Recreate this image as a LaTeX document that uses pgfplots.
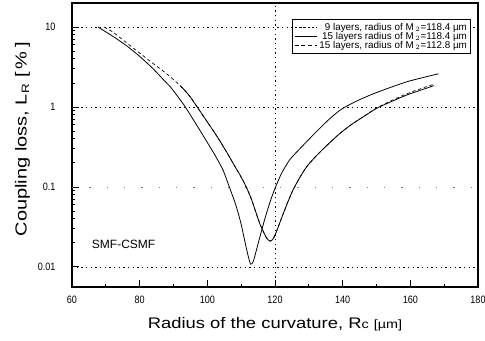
\documentclass[border=0pt]{standalone}
\usepackage{pgfplots}
\pgfplotsset{compat=1.18}
\usetikzlibrary{calc}
\usepackage{fontspec}
\setmainfont{Liberation Sans}
\begin{document}
\begin{tikzpicture}
\begin{semilogyaxis}[
  scale only axis, width=304.5pt, height=213pt,
  xmin=60, xmax=180, ymin=0.0056, ymax=20,
  xtick={60,80,100,120,140,160,180}, minor x tick num=1,
  xticklabels={60,80,100,120,140,160,180},
  ytick={0.01,0.1,1,10}, yticklabels={0.01,0.1,1,10},
  tick align=inside, xtick pos=left, ytick pos=left,
  major tick length=5pt, minor tick length=2.5pt,
  axis line style={line width=1pt},
  every tick/.style={black, line width=0.6pt},
  ticklabel style={font=\fontsize{8}{9}\selectfont, xscale=0.85},
  xticklabel style={yshift=-3pt},
  yticklabel style={xshift=-11pt},
  xlabel={Radius of the curvature, R{\small c} {\small [µm]}},
  ylabel={Coupling loss, L\textsubscript{R} [\,\%\,]},
  every axis x label/.style={at={(axis description cs:0.5,0)}, anchor=north, yshift=-19pt,
     font=\fontsize{11.5}{13}\selectfont, xscale=1.2},
  every axis y label/.style={at={(axis description cs:0,0.52)}, anchor=south, xshift=-28pt,
     rotate=90, xscale=1.25, font=\fontsize{12}{13}\selectfont},
  legend style={at={(0.983,0.944)}, anchor=north east, font=\fontsize{7.4}{8}\selectfont,
    cells={anchor=east}, draw=black, line width=0.8pt, inner sep=1.5pt, row sep=-2.5pt,
    nodes={inner sep=1.2pt}},
  legend cell align=right,
]
\coordinate (SW) at (rel axis cs:0,0);
\coordinate (NE) at (rel axis cs:1,1);
\draw[dash pattern=on 1pt off 2.5pt, line width=0.5pt] (axis cs:60,10) -- (axis cs:180,10);
\draw[dash pattern=on 1pt off 2.5pt, line width=0.5pt] (axis cs:60,1) -- (axis cs:180,1);
\draw[dash pattern=on 1pt off 2.5pt, line width=0.5pt] (axis cs:60,0.01) -- (axis cs:180,0.01);
\draw[dash pattern=on 1pt off 12pt, line width=0.5pt, gray] (axis cs:60,0.1) -- (axis cs:180,0.1);
\draw[dash pattern=on 1pt off 2.5pt, line width=0.5pt] (axis cs:120,0.0056) -- (axis cs:120,20);

\addlegendimage{black, line width=0.5pt, dash pattern=on 2pt off 1.2pt}
\addlegendentry{9 layers, radius of M\,$_2$=118.4 µm}
\addlegendimage{black, line width=0.5pt}
\addlegendentry{15 layers radius of M\,$_2$=118.4 µm}
\addlegendimage{black, line width=0.5pt, dash pattern=on 3pt off 2pt}
\addlegendentry{15 layers, radius of M\,$_2$=112.8 µm}

% 15 layers, M2 = 112.8 um
\addplot[black, line width=0.6pt, smooth, tension=0.4, forget plot] coordinates {
(67.7,10)(72,7.7)(76,5.9)(80,4.3)(84,3.0)(87,2.2)(89,1.8)(91,1.4)(93.5,1.0)
(97,0.58)(100,0.36)(102.5,0.24)(104.7,0.16)(106.5,0.1)(108.5,0.058)(110,0.034)
(111.3,0.019)(112.2,0.013)(112.8,0.0108)(113.5,0.0115)(114.3,0.015)(115.2,0.021)
(116.1,0.029)(117,0.04)(118,0.055)(119,0.074)(120,0.096)(122,0.15)(124.4,0.22)
(127,0.29)(129.4,0.37)(132,0.48)(135.8,0.69)(139.5,0.93)(144,1.18)(149,1.46)
(154,1.75)(159,2.07)(164,2.35)(168.3,2.6)};

% 15 layers, M2 = 118.4 um
\addplot[black, line width=0.6pt, smooth, tension=0.4, forget plot] coordinates {
(92,1.85)(94,1.5)(95.5,1.24)(97,1.0)(100,0.65)(103,0.42)(106,0.26)(108,0.185)
(109.7,0.14)(111.5,0.1)(113.1,0.069)(114.5,0.046)(115.6,0.034)(116.5,0.028)
(117.5,0.023)(118.5,0.021)(119.3,0.022)(120,0.025)(121,0.032)(122.5,0.047)
(124,0.068)(125.4,0.093)(127.5,0.135)(129.4,0.18)(132,0.24)(135.3,0.33)
(139,0.46)(142.5,0.6)(146,0.75)(150,0.96)(154,1.15)(158.9,1.41)(163,1.62)(167,1.85)};

% 9 layers, M2 = 118.4 um
\addplot[black, line width=0.5pt, dash pattern=on 2.5pt off 2pt, smooth, tension=0.4, forget plot] coordinates {
(69.5,10)(72,8.7)(74.7,7.1)(79,5.1)(83.6,3.6)(88,2.6)(90,2.2)(92,1.85)(94,1.5)
(95.5,1.24)(97,1.0)(100,0.65)(103,0.42)(106,0.26)(108,0.185)(109.7,0.14)
(111.5,0.1)(113.1,0.069)(114.5,0.046)(115.6,0.034)(116.5,0.028)(117.5,0.023)
(118.5,0.021)(119.3,0.022)(120,0.025)(121,0.032)(122.5,0.047)(124,0.068)
(125.4,0.093)(127.5,0.135)(129.4,0.18)(132,0.24)(135.3,0.33)(139,0.46)
(142.5,0.6)(146,0.75)(150,0.97)(154,1.18)(158.9,1.46)(163,1.69)(167,1.93)};

\node[anchor=west, font=\fontsize{9}{10}\selectfont] at (axis cs:64.5,0.019) {SMF-CSMF};
\end{semilogyaxis}
\pgfresetboundingbox
\path[use as bounding box] ($(SW)+(-54pt,-39.75pt)$) rectangle ($(NE)+(5.25pt,2.25pt)$);
\end{tikzpicture}
\end{document}
